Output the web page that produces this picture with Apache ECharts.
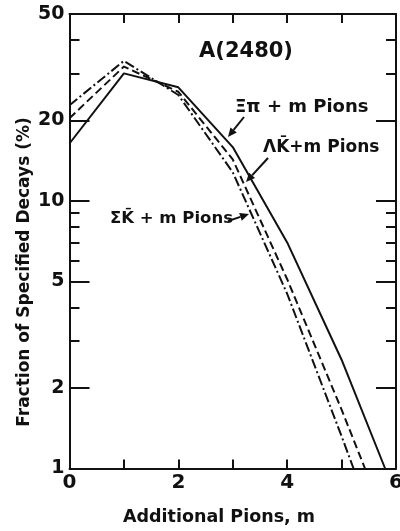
<!DOCTYPE html>
<html>
<head>
<meta charset="utf-8">
<script src="https://cdn.jsdelivr.net/npm/echarts@6/dist/echarts.min.js"></script>
<style>
html,body{margin:0;padding:0;background:#fff;}
#chart{width:400px;height:531px;}
</style>
</head>
<body>
<div id="chart"></div>
<script>
// ---- data ----
const mValues = [0, 1, 2, 3, 4, 5];
const xiPi    = [16.4, 30.0, 26.6, 15.9, 7.0, 2.55];   // solid
const lambdaK = [20.4, 31.8, 25.6, 14.3, 5.1, 1.66];   // dashed
const sigmaK  = [22.8, 33.4, 24.9, 12.8, 4.5, 1.32];   // dash-dot
// where each curve leaves the plot at the bottom (value 1)
const xiPiEnd    = [5.80, 1];
const lambdaKEnd = [5.43, 1];
const sigmaKEnd  = [5.22, 1];

const yMajorTicks = [1, 2, 5, 10, 20, 50];
const yMinorTicks = [3, 4, 6, 7, 8, 9, 30, 40];
const xTickValues = [1, 2, 3, 4, 5];
const xLabelValues = [0, 2, 4, 6];

const FONT = '"DejaVu Sans", sans-serif';
const INK = '#111';

function pairs(xs, ys, end) {
  const out = xs.map((x, i) => [x, ys[i]]);
  out.push(end);
  return out;
}

function yAxisDef(pos, major) {
  return {
    type: 'log', logBase: 10, min: 1, max: 50, position: pos,
    axisLine: { show: major, lineStyle: { color: INK, width: 2 } },
    axisTick: {
      show: true, inside: true, length: major ? 20 : 10,
      customValues: major ? yMajorTicks : yMinorTicks,
      lineStyle: { color: INK, width: 2 }
    },
    axisLabel: {
      show: major && pos === 'left', customValues: yMajorTicks,
      color: INK, fontFamily: FONT, fontWeight: 'bold', fontSize: 19, margin: 5
    },
    splitLine: { show: false }
  };
}

function xAxisDef(pos) {
  return {
    type: 'value', min: 0, max: 6, interval: 1, position: pos,
    axisLine: { show: true, onZero: false, lineStyle: { color: INK, width: 2 } },
    axisTick: { show: true, inside: true, length: 9, customValues: xTickValues,
                lineStyle: { color: INK, width: 2 } },
    axisLabel: { show: pos === 'bottom', customValues: xLabelValues,
                 color: INK, fontFamily: FONT, fontWeight: 'bold', fontSize: 20, margin: 4 },
    splitLine: { show: false }
  };
}

function arrow(x1, y1, x2, y2, size) {
  const a = Math.atan2(y2 - y1, x2 - x1);
  const w = size * 0.45;
  const bx = x2 - size * Math.cos(a), by = y2 - size * Math.sin(a);
  return [
    { type: 'line', shape: { x1: x1, y1: y1, x2: bx, y2: by },
      style: { stroke: INK, lineWidth: 2 } },
    { type: 'polygon', shape: { points: [[x2, y2],
        [bx + w * Math.sin(a), by - w * Math.cos(a)],
        [bx - w * Math.sin(a), by + w * Math.cos(a)]] },
      style: { fill: INK } }
  ];
}

function label(text, x, y, size, align) {
  return { type: 'text', x: x, y: y,
    style: { text: text, font: 'bold ' + size + 'px ' + FONT, fill: INK,
             textAlign: align || 'left', textVerticalAlign: 'middle' } };
}

const chart = echarts.init(document.getElementById('chart'), null, { renderer: 'canvas' });

const option = {
  backgroundColor: '#fff',
  animation: false,
  grid: { left: 69.5, right: 4, top: 14, bottom: 62.5,
          containLabel: false, outerBoundsMode: 'none' },
  xAxis: [xAxisDef('bottom'), xAxisDef('top')],
  yAxis: [yAxisDef('left', true), yAxisDef('left', false),
          yAxisDef('right', true), yAxisDef('right', false)],
  series: [
    { name: 'Ξπ + m Pions', type: 'line', data: pairs(mValues, xiPi, xiPiEnd),
      showSymbol: false, clip: true,
      lineStyle: { color: INK, width: 2, type: 'solid' } },
    { name: 'ΛK̄ + m Pions', type: 'line', data: pairs(mValues, lambdaK, lambdaKEnd),
      showSymbol: false, clip: true,
      lineStyle: { color: INK, width: 2, type: [8, 4] } },
    { name: 'ΣK̄ + m Pions', type: 'line', data: pairs(mValues, sigmaK, sigmaKEnd),
      showSymbol: false, clip: true,
      lineStyle: { color: INK, width: 2, type: [10, 3, 2, 3] } }
  ],
  graphic: [
    label('A(2480)', 246, 52, 21, 'center'),
    label('Ξπ + m Pions', 235, 107, 18),
    label('ΛK̄+m Pions', 263, 148, 17),
    label('ΣK̄ + m Pions', 110, 219, 16.5),
    ...arrow(244, 117, 228, 137, 9),
    ...arrow(268, 158, 246, 182, 9),
    ...arrow(228, 221, 249, 214, 9),
    { type: 'text', x: 25, y: 272, rotation: Math.PI / 2,
      style: { text: 'Fraction of Specified Decays (%)', font: 'bold 17px ' + FONT,
               fill: INK, textAlign: 'center', textVerticalAlign: 'middle' } },
    label('Additional Pions, m', 219, 517, 17.5, 'center')
  ]
};

chart.setOption(option);
</script>
</body>
</html>
